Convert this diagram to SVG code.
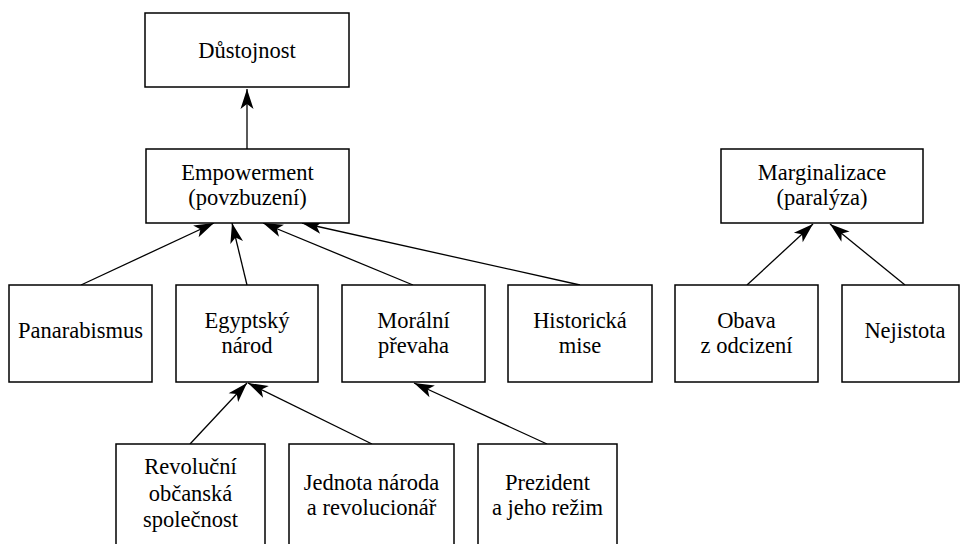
<svg xmlns="http://www.w3.org/2000/svg" width="961" height="544" viewBox="0 0 961 544">
<defs>
<style>
.box rect{fill:#fff;stroke:#000;stroke-width:1.5}
text{font-family:'Liberation Serif','DejaVu Serif',serif;font-size:22.5px;text-anchor:middle;fill:#000}
.edges line{stroke:#000;stroke-width:1.3;marker-end:url(#arr)}
</style>
<marker id="arr" markerUnits="userSpaceOnUse" markerWidth="24" markerHeight="16" viewBox="-22 -8 23 16" refX="0" refY="0" orient="auto">
<path d="M0,0 L-20,-6.5 L-15,0 L-20,6.5 z" fill="#000"/>
</marker>
</defs>
<rect width="961" height="544" fill="#fff"/>
<g class="edges">
<line x1="247" y1="149" x2="247" y2="89"/>
<line x1="81" y1="285" x2="214" y2="223"/>
<line x1="247" y1="285" x2="232" y2="223"/>
<line x1="413" y1="285" x2="263" y2="223"/>
<line x1="580" y1="285" x2="302" y2="223"/>
<line x1="747" y1="285" x2="813" y2="224"/>
<line x1="905" y1="285" x2="830" y2="224"/>
<line x1="190" y1="444" x2="247" y2="383"/>
<line x1="372" y1="444" x2="248" y2="383"/>
<line x1="547" y1="444" x2="414" y2="383"/>
</g>
<g id="dustojnost" class="box"><rect x="145" y="13" width="204" height="74"/><text x="247" y="58">Důstojnost</text></g>
<g id="empowerment" class="box"><rect x="146" y="149" width="203" height="74"/><text x="247.5" y="180">Empowerment</text><text x="247.5" y="205">(povzbuzení)</text></g>
<g id="marginalizace" class="box"><rect x="721" y="149" width="202" height="74"/><text x="822" y="180">Marginalizace</text><text x="822" y="205">(paralýza)</text></g>
<g id="panarabismus" class="box"><rect x="9" y="285" width="143" height="97"/><text x="80.5" y="338">Panarabismus</text></g>
<g id="egyptsky" class="box"><rect x="176" y="285" width="142" height="97"/><text x="247" y="328">Egyptský</text><text x="247" y="353">národ</text></g>
<g id="moralni" class="box"><rect x="342" y="285" width="143" height="97"/><text x="413.5" y="328">Morální</text><text x="413.5" y="353">převaha</text></g>
<g id="historicka" class="box"><rect x="508" y="285" width="144" height="97"/><text x="580" y="328">Historická</text><text x="580" y="353">mise</text></g>
<g id="obava" class="box"><rect x="675" y="285" width="143" height="97"/><text x="746.5" y="328">Obava</text><text x="746.5" y="353">z odcizení</text></g>
<g id="nejistota" class="box"><rect x="842" y="285" width="117" height="97"/><text x="905" y="338">Nejistota</text></g>
<g id="revolucni" class="box"><rect x="116" y="444" width="149" height="120"/><text x="190.5" y="474">Revoluční</text><text x="190.5" y="501">občanská</text><text x="190.5" y="527">společnost</text></g>
<g id="jednota" class="box"><rect x="289" y="444" width="165" height="120"/><text x="371.5" y="490">Jednota národa</text><text x="371.5" y="515">a revolucionář</text></g>
<g id="prezident" class="box"><rect x="478" y="444" width="139" height="120"/><text x="547.5" y="490">Prezident</text><text x="547.5" y="515">a jeho režim</text></g>
</svg>
